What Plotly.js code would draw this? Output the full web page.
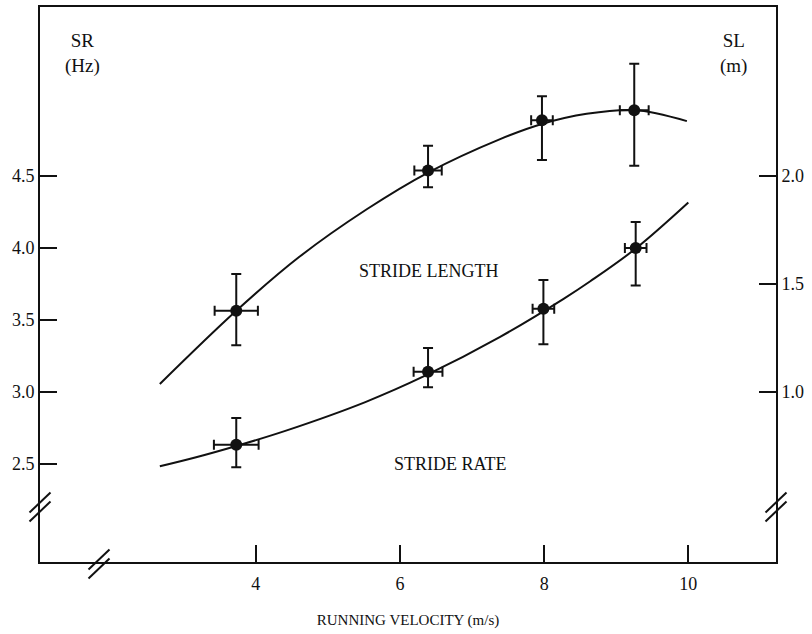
<!DOCTYPE html>
<html>
<head>
<meta charset="utf-8">
<script src="https://cdn.plot.ly/plotly-3.0.1.min.js"></script>
<style>html,body{margin:0;padding:0;background:#fff;}#chart{width:812px;height:634px;}</style>
</head>
<body>
<div id="chart"></div>
<script>
// ---- data ----
var slVelocity = [3.73, 6.39, 7.97, 9.25];
var slVelErr   = [0.30, 0.19, 0.15, 0.20];
var slValues   = [1.376, 2.026, 2.258, 2.304];
var slErrPlus  = [0.170, 0.114, 0.111, 0.216];
var slErrMinus = [0.160, 0.078, 0.184, 0.256];

var srVelocity = [3.73, 6.39, 7.99, 9.27];
var srVelErr   = [0.31, 0.20, 0.15, 0.15];
var srValues   = [2.634, 3.140, 3.578, 4.000];
var srErrPlus  = [0.185, 0.166, 0.200, 0.180];
var srErrMinus = [0.157, 0.107, 0.247, 0.260];

// fitted curves
var slCurveX = [2.67, 3.73, 4.61, 5.54, 6.39, 7.39, 7.97, 8.59, 9.25, 9.98];
var slCurveY = [1.037, 1.376, 1.627, 1.846, 2.016, 2.171, 2.241, 2.288, 2.305, 2.254];
var srCurveX = [2.67, 3.16, 3.73, 4.41, 5.52, 6.35, 7.39, 8.27, 8.64, 9.27, 10.0];
var srCurveY = [2.484, 2.545, 2.625, 2.730, 2.930, 3.113, 3.383, 3.647, 3.769, 3.996, 4.316];

var xTicks = [4, 6, 8, 10];
var srTicks = [2.5, 3.0, 3.5, 4.0, 4.5];
var srTickText = ['2.5', '3.0', '3.5', '4.0', '4.5'];
var slTicks = [1.0, 1.5, 2.0];
var slTickText = ['1.0', '1.5', '2.0'];

var FONT = "'Liberation Serif', 'Times New Roman', serif";
var INK = '#111';

var traces = [
  {x: slCurveX, y: slCurveY, yaxis: 'y2', mode: 'lines', line: {color: INK, width: 2, shape: 'spline', smoothing: 1}, hoverinfo: 'skip'},
  {x: srCurveX, y: srCurveY, mode: 'lines', line: {color: INK, width: 2, shape: 'spline', smoothing: 1}, hoverinfo: 'skip'},
  {x: slVelocity, y: slValues, yaxis: 'y2', mode: 'markers',
   marker: {color: INK, size: 12},
   error_y: {type: 'data', symmetric: false, array: slErrPlus, arrayminus: slErrMinus, color: INK, thickness: 2, width: 5},
   error_x: {type: 'data', array: slVelErr, color: INK, thickness: 2, width: 5}},
  {x: srVelocity, y: srValues, mode: 'markers',
   marker: {color: INK, size: 12},
   error_y: {type: 'data', symmetric: false, array: srErrPlus, arrayminus: srErrMinus, color: INK, thickness: 2, width: 5},
   error_x: {type: 'data', array: srVelErr, color: INK, thickness: 2, width: 5}}
];

// plot area in pixels
var L = 40, T = 7, W = 736, H = 555;
function px(xp) { return (xp - L) / W; }
function py(yp) { return (T + H - yp) / H; }
function slash(cx, cy) {
  var out = [];
  [-4.5, 4.5].forEach(function (d) {
    out.push({type: 'line', xref: 'paper', yref: 'paper',
      x0: px(cx - 10.5), y0: py(cy + 10 + d), x1: px(cx + 10.5), y1: py(cy - 10 + d),
      line: {color: INK, width: 2}});
  });
  return out;
}
var shapes = [].concat(slash(40, 507), slash(99, 564), slash(776, 507));

var tickFont = {family: FONT, size: 18, color: INK};
var layout = {
  width: 812, height: 634,
  margin: {l: L, r: 812 - L - W, t: T, b: 634 - T - H},
  paper_bgcolor: '#fff', plot_bgcolor: '#fff',
  showlegend: false,
  font: {family: FONT, color: INK, size: 16},
  xaxis: {range: [1.008, 11.216], tickvals: xTicks, ticktext: xTicks.map(String),
    ticks: 'inside', ticklen: 17, tickwidth: 2, tickcolor: INK, ticklabelstandoff: 4,
    showline: true, linewidth: 2, linecolor: INK, mirror: true,
    showgrid: false, zeroline: false, tickfont: tickFont,
    title: {text: 'RUNNING VELOCITY (m/s)', font: {family: FONT, size: 15, color: INK}, standoff: 22}},
  yaxis: {range: [1.8194, 5.6736], tickvals: srTicks, ticktext: srTickText,
    ticks: 'inside', ticklen: 17, tickwidth: 2, tickcolor: INK,
    showline: true, linewidth: 2, linecolor: INK,
    showgrid: false, zeroline: false, tickfont: tickFont},
  yaxis2: {range: [0.2130, 2.7824], overlaying: 'y', side: 'right', tickvals: slTicks, ticktext: slTickText,
    ticks: 'inside', ticklen: 17, tickwidth: 2, tickcolor: INK,
    showline: true, linewidth: 2, linecolor: INK,
    showgrid: false, zeroline: false, tickfont: tickFont},
  shapes: shapes,
  annotations: [
    {xref: 'paper', yref: 'paper', x: px(82), y: py(53), xanchor: 'center', yanchor: 'middle', text: 'SR<br>(Hz)', showarrow: false, font: {family: FONT, size: 19, color: INK}, align: 'center'},
    {xref: 'paper', yref: 'paper', x: px(733), y: py(53), xanchor: 'center', yanchor: 'middle', text: 'SL<br>(m)', showarrow: false, font: {family: FONT, size: 19, color: INK}, align: 'center'},
    {xref: 'x', yref: 'y', x: 6.40, y: 3.84, xanchor: 'center', yanchor: 'middle', text: 'STRIDE LENGTH', showarrow: false, font: {family: FONT, size: 18, color: INK}},
    {xref: 'x', yref: 'y', x: 6.70, y: 2.50, xanchor: 'center', yanchor: 'middle', text: 'STRIDE RATE', showarrow: false, font: {family: FONT, size: 18, color: INK}}
  ]
};

Plotly.newPlot('chart', traces, layout, {staticPlot: true, displayModeBar: false});
</script>
</body>
</html>
